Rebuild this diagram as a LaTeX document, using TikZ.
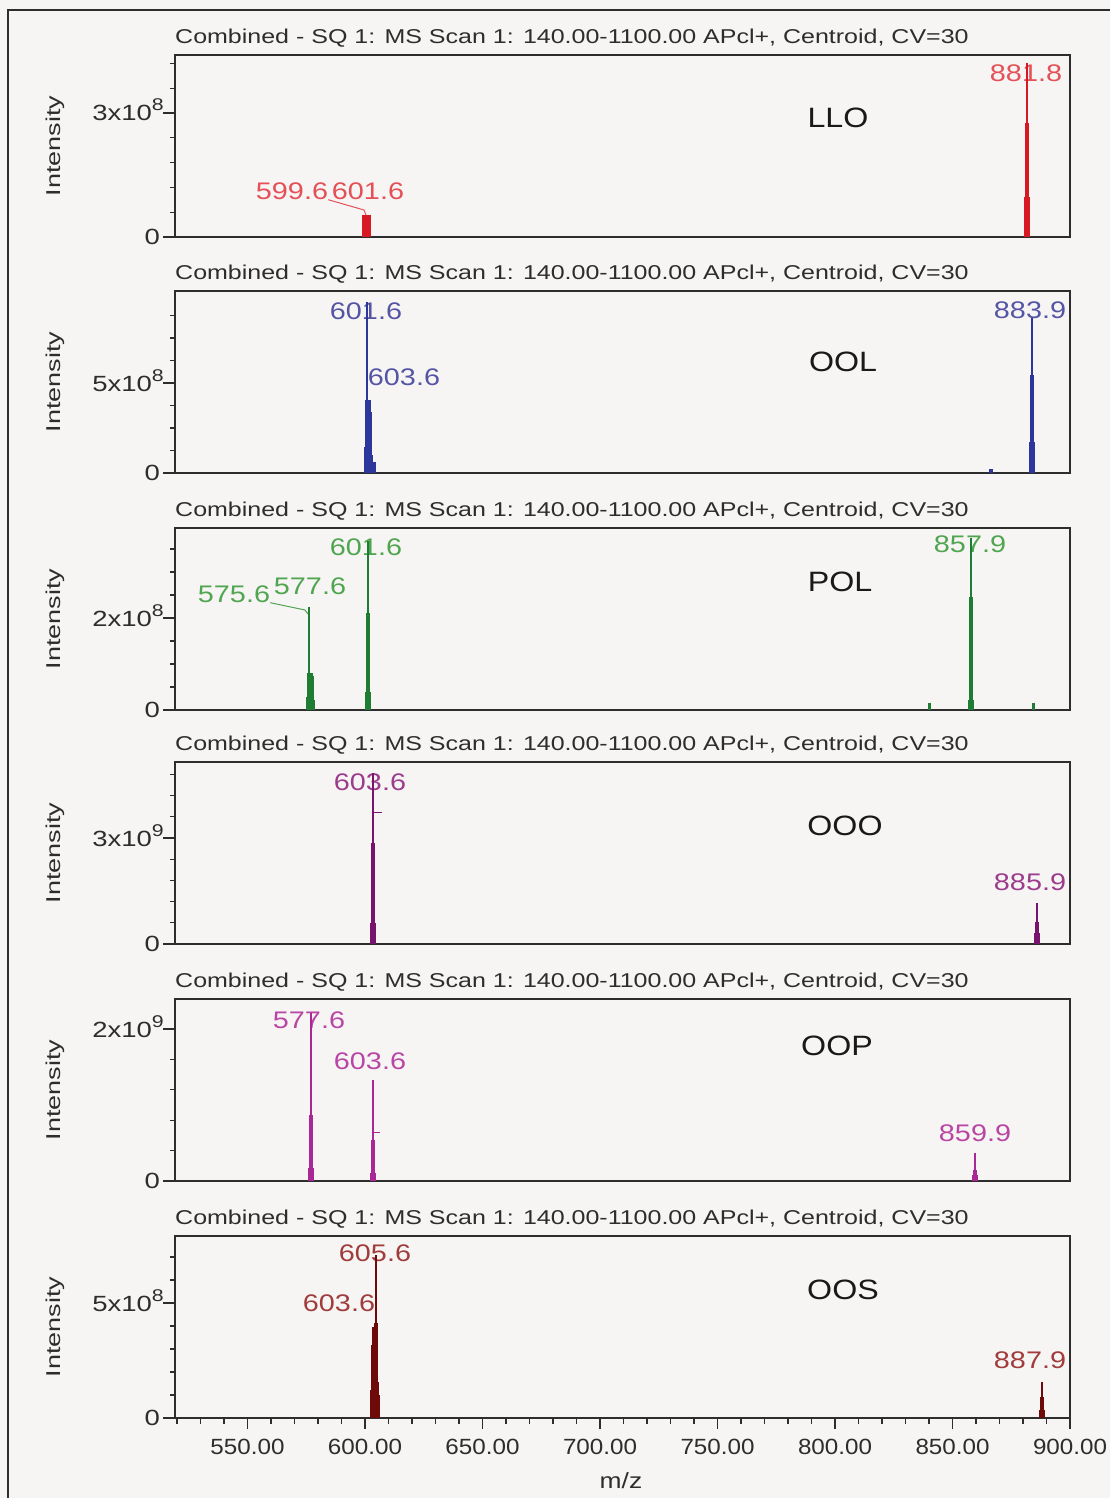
\documentclass[tikz,border=0pt]{standalone}
\usepackage{fontspec}
\setmainfont{Liberation Sans}
\usepackage{graphicx}

\definecolor{paper}{RGB}{247,245,244}
\definecolor{ink}{RGB}{45,45,45}
\definecolor{llo}{RGB}{215,25,35}
\definecolor{llotext}{RGB}{228,80,88}
\definecolor{ool}{RGB}{45,55,155}
\definecolor{ooltext}{RGB}{85,85,165}
\definecolor{pol}{RGB}{30,125,50}
\definecolor{poltext}{RGB}{80,165,80}
\definecolor{ooo}{RGB}{120,20,110}
\definecolor{ooooo}{RGB}{155,60,140}
\definecolor{oop}{RGB}{170,40,150}
\definecolor{ooptext}{RGB}{185,70,165}
\definecolor{oos}{RGB}{110,10,10}
\definecolor{oostext}{RGB}{160,60,60}

\newcommand{\wide}[2]{\scalebox{#1}[1]{#2}}
\newcommand{\expo}[2]{#1x10\raisebox{10pt}{\fontsize{17}{17}\selectfont #2}}

% one spectrum box: name, baseline y, label height, minor steps, mantissa, exponent, tick count
\newcommand{\panel}[7]{%
  \draw (175, #2-199)   node[scanhead]            (#1head)  {\wide{1.25}{Combined - SQ 1: MS Scan 1: 140.00-1100.00 APcl+, Centroid, CV=30}};
  \draw (55, #2-91)     node[ylab]                (#1ylab)  {\wide{1.35}{Intensity}};
  \draw (160, #2)       node[num, anchor=east]    (#1zero)  {\wide{1.25}{0}};
  \draw (164, #2-#3+8)  node[num, anchor=base east] (#1exp) {\wide{1.25}{\expo{#5}{#6}}};
  \draw[frameline, line width=1.3pt] (163, #2) -- (175, #2);
  \draw[frameline, line width=1.3pt] (163, #2-#3) -- (175, #2-#3);
  \foreach \k in {1,...,#7}
    \draw[frameline, line width=1.3pt] (170, {#2-\k*#3/#4}) -- (175, {#2-\k*#3/#4});
  \draw[frameline] (175, #2-182) rectangle (1070, #2);
}

% one peak: colour, x, baseline, thin top, mid top, low top
\newcommand{\peak}[6]{%
  \draw[#1, line width=1.1pt] (#2, #3) -- (#2, #4);
  \fill[#1] (#2-1.6, #3) rectangle (#2+1.6, #5);
  \fill[#1] (#2-2.8, #3) rectangle (#2+2.8, #6);
}

\begin{document}
\begin{tikzpicture}
    \tikzset{x=1pt, y=-1pt}
    \tikzstyle{frameline}=[draw=ink, line width=2.4pt]
    \tikzstyle{scanhead}=[anchor=west, inner sep=0, text=ink, font=\fontsize{20}{24}\selectfont]
    \tikzstyle{num}=[inner sep=0, text=ink, font=\fontsize{22}{26}\selectfont]
    \tikzstyle{ylab}=[inner sep=0, rotate=90, text=ink, font=\fontsize{20}{24}\selectfont]
    \tikzstyle{mz}=[inner sep=0, font=\fontsize{24}{28}\selectfont]
    \tikzstyle{tag}=[inner sep=0, text=black!90, font=\fontsize{28}{32}\selectfont]

    \clip (0,0) rectangle (1110,1498);
    \fill[paper] (0,0) rectangle (1110,1498);
    \draw[frameline] (8,10) rectangle (1140,1530);

    % LLO
    \panel{llo}{237}{124}{5}{3}{8}{7}
    \draw (292, 191)    node[mz, text=llotext]  (llo5996)  {\wide{1.2}{599.6}};
    \draw (368, 191)    node[mz, text=llotext]  (llo6016)  {\wide{1.2}{601.6}};
    \draw (1026, 73)    node[mz, text=llotext]  (llo8818)  {\wide{1.2}{881.8}};
    \draw (838, 118)    node[tag]               (llotag)   {\wide{1.15}{LLO}};
    \coordinate (llobend) at (364, 210);
    \coordinate (llofoot) at (366, 215);
    \fill[llo] (362, 237) rectangle (371, 215);
    \peak{llo}{1027}{237}{63}{123}{197}
    \draw[llotext, line width=1pt] (llo5996.south east) -- (llobend) -- (llofoot);

    % OOL
    \panel{ool}{473}{90}{4}{5}{8}{7}
    \draw (366, 311)    node[mz, text=ooltext]  (ool6016)  {\wide{1.2}{601.6}};
    \draw (404, 377)    node[mz, text=ooltext]  (ool6036)  {\wide{1.2}{603.6}};
    \draw (1030, 310)   node[mz, text=ooltext]  (ool8839)  {\wide{1.2}{883.9}};
    \draw (843, 362)    node[tag]               (ooltag)   {\wide{1.15}{OOL}};
    \peak{ool}{367}{473}{302}{400}{447}
    \peak{ool}{370}{473}{400}{412}{455}
    \fill[ool] (366, 473) rectangle (376, 462);
    \peak{ool}{1032}{473}{318}{375}{442}
    \fill[ool] (989, 473) rectangle (993, 469);

    % POL
    \panel{pol}{710}{92}{4}{2}{8}{7}
    \draw (234, 594)    node[mz, text=poltext]  (pol5756)  {\wide{1.2}{575.6}};
    \draw (310, 586)    node[mz, text=poltext]  (pol5776)  {\wide{1.2}{577.6}};
    \draw (366, 547)    node[mz, text=poltext]  (pol6016)  {\wide{1.2}{601.6}};
    \draw (970, 544)    node[mz, text=poltext]  (pol8579)  {\wide{1.2}{857.9}};
    \draw (840, 582)    node[tag]               (poltag)   {\wide{1.15}{POL}};
    \coordinate (polbend) at (305, 610);
    \coordinate (polfoot) at (308, 614);
    \peak{pol}{309}{710}{607}{673}{697}
    \peak{pol}{312}{710}{673}{676}{700}
    \fill[pol] (306, 710) rectangle (315, 700);
    \peak{pol}{368}{710}{541}{613}{692}
    \peak{pol}{971}{710}{538}{597}{700}
    \fill[pol] (928, 710) rectangle (931, 703);
    \fill[pol] (1032, 710) rectangle (1035, 703);
    \draw[poltext, line width=1pt] (pol5756.south east) -- (polbend) -- (polfoot);

    % OOO
    \panel{ooo}{944}{106}{5}{3}{9}{8}
    \draw (370, 782)    node[mz, text=ooooo]    (ooo6036)  {\wide{1.2}{603.6}};
    \draw (1030, 882)   node[mz, text=ooooo]    (ooo8859)  {\wide{1.2}{885.9}};
    \draw (845, 826)    node[tag]               (oootag)   {\wide{1.15}{OOO}};
    \peak{ooo}{373}{944}{773}{843}{923}
    \draw[ooo, line width=1pt] (373, 812) -- (382, 812);
    \peak{ooo}{1037}{944}{903}{922}{933}

    % OOP
    \panel{oop}{1181}{152}{5}{2}{9}{5}
    \draw (309, 1020)   node[mz, text=ooptext]  (oop5776)  {\wide{1.2}{577.6}};
    \draw (370, 1061)   node[mz, text=ooptext]  (oop6036)  {\wide{1.2}{603.6}};
    \draw (975, 1133)   node[mz, text=ooptext]  (oop8599)  {\wide{1.2}{859.9}};
    \draw (837, 1046)   node[tag]               (ooptag)   {\wide{1.15}{OOP}};
    \peak{oop}{311}{1181}{1013}{1115}{1168}
    \peak{oop}{373}{1181}{1080}{1140}{1173}
    \draw[oop, line width=1pt] (373, 1132) -- (380, 1132);
    \peak{oop}{975}{1181}{1153}{1170}{1175}

    % OOS
    \panel{oos}{1418}{115}{5}{5}{8}{7}
    \draw (375, 1253)   node[mz, text=oostext]  (oos6056)  {\wide{1.2}{605.6}};
    \draw (339, 1303)   node[mz, text=oostext]  (oos6036)  {\wide{1.2}{603.6}};
    \draw (1030, 1360)  node[mz, text=oostext]  (oos8879)  {\wide{1.2}{887.9}};
    \draw (843, 1290)   node[tag]               (oostag)   {\wide{1.15}{OOS}};
    \peak{oos}{376}{1418}{1255}{1323}{1382}
    \peak{oos}{373}{1418}{1327}{1345}{1390}
    \fill[oos] (370, 1418) rectangle (380, 1395);
    \peak{oos}{1042}{1418}{1382}{1397}{1410}

    % m/z axis
    \foreach \m in {520,530,...,890}
        \draw[frameline, line width=1.3pt] ({247.5+(\m-550)*2.35}, 1418) -- ++(0, 6);
    \foreach \m in {550,600,...,900}
        \draw[frameline, line width=1.6pt] ({247.5+(\m-550)*2.35}, 1418) -- ++(0, 11);
    \foreach \m in {550,600,...,900}
        \draw ({247.5+(\m-550)*2.35}, 1447) node[num] (tick\m) {\wide{1.1}{\m.00}};
    \draw (621, 1481)   node[num]               (mzlabel)  {\wide{1.2}{m/z}};
\end{tikzpicture}
\end{document}
